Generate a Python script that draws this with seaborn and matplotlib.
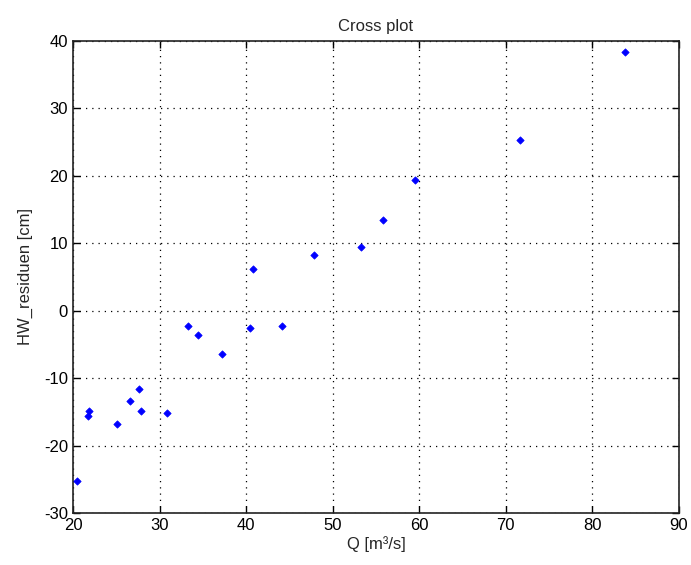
import pandas as pd
import matplotlib
matplotlib.use("Agg")
import matplotlib.pyplot as plt
import seaborn as sns

# values
q = [20.5, 21.7, 21.9, 25.1, 26.6, 27.6, 27.9, 30.85, 33.3, 34.5, 37.2,
     40.5, 40.8, 44.1, 47.8, 53.3, 55.85, 59.5, 71.6, 83.8]
resid = [-25.2, -15.6, -14.8, -16.8, -13.3, -11.6, -14.8, -15.2, -2.2, -3.6, -6.4,
         -2.6, 6.2, -2.2, 8.3, 9.4, 13.4, 19.3, 25.3, 38.3]
xticks = [20, 30, 40, 50, 60, 70, 80, 90]
yticks = [-30, -20, -10, 0, 10, 20, 30, 40]

df = pd.DataFrame({"Q": q, "HW_residuen": resid})

sns.set_style("ticks")
plt.rcParams["font.family"] = ["Liberation Sans", "DejaVu Sans"]
plt.rcParams["axes.unicode_minus"] = False

fig = plt.figure(figsize=(6.91, 5.65), dpi=100)
ax = fig.add_axes([0.1056, 0.0915, 0.877, 0.8365])

sns.scatterplot(data=df, x="Q", y="HW_residuen", ax=ax, marker="D", s=14,
                color="#0000ff", edgecolor="#0000ff", linewidth=0.5, zorder=3)

ax.set_xlim(20, 90)
ax.set_ylim(-30, 40)
ax.set_xticks(xticks)
ax.set_yticks(yticks)
ax.grid(True, linestyle=(0, (1, 4)), color="black", linewidth=0.9)
ax.tick_params(direction="in", top=True, right=True, length=5, labelsize=12,
               colors="black", width=1)
for sp in ax.spines.values():
    sp.set_visible(True)
    sp.set_color("#222222")
    sp.set_linewidth(1.2)

ax.set_title("Cross plot", fontsize=12, pad=7)
ax.set_xlabel("Q [m\u00b3/s]", fontsize=12, labelpad=2)
ax.set_ylabel("HW_residuen [cm]", fontsize=12, labelpad=8)

plt.savefig("out.png", dpi=100)
